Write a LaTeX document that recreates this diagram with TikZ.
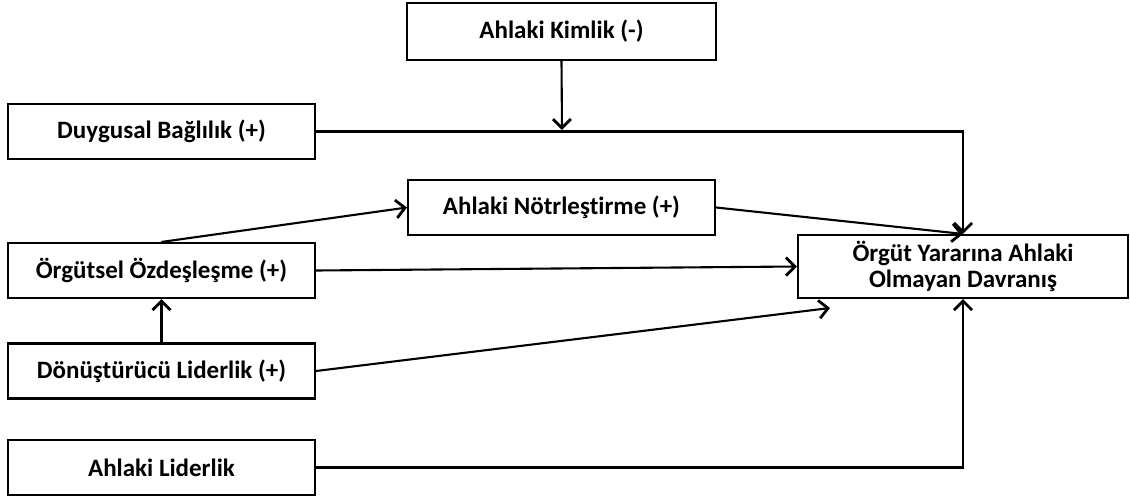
\documentclass[tikz,border=0pt]{standalone}
\usepackage{fontspec}
\setmainfont[Ligatures=NoCommon]{Carlito}
\usetikzlibrary{arrows.meta}
\begin{document}
\begin{tikzpicture}[x=1pt,y=-1pt,
  box/.style={draw, line width=2.1pt, minimum height=55pt, inner sep=0pt,
    align=center, font=\fontsize{25}{25.5}\selectfont\bfseries},
  link/.style={line width=2.1pt, -{Straight Barb[length=9pt,width=18pt,line width=2.8pt]}}]
\useasboundingbox (0,0) rectangle (1130,497);

% factors
\node[box, minimum width=309pt, minimum height=57pt] (ak) at (561.5,31.5) {Ahlaki Kimlik (-)};
\node[box, minimum width=307pt] (db) at (161.5,131.5) {Duygusal Bağlılık (+)};
\node[box, minimum width=307pt] (an) at (561.5,207.5) {Ahlaki Nötrleştirme (+)};
\node[box, minimum width=307pt] (oo) at (161.5,270.5) {Örgütsel Özdeşleşme (+)};
\node[box, minimum width=307pt] (dl) at (161.5,371) {Dönüştürücü Liderlik (+)};
\node[box, minimum width=307pt] (al) at (161.5,467.5) {Ahlaki Liderlik};

% outcome
\node[box, minimum width=330pt, minimum height=63pt] (out) at (963,266.5)
  {Örgüt Yararına Ahlaki\\Olmayan Davranış};

% connector end points
\coordinate (akhit) at (562,130);
\coordinate (dlend) at (830,308);

% paths
\draw[link] (ak.south) -- (akhit);
\draw[link] (db.east) -- (db.east -| out.north) -- (out.north);
\draw[link] (oo.north) -- (an.west);
\draw[link] (an.east) -- (out.north);
\draw[link] (oo.east) -- (out.west);
\draw[link] (dl.east) -- (dlend);
\draw[link] (dl.north) -- (oo.south);
\draw[link] (al.east) -- (al.east -| out.south) -- (out.south);
\end{tikzpicture}
\end{document}
